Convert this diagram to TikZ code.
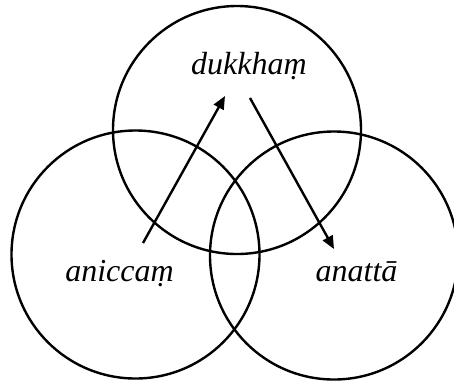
\documentclass[tikz,border=0pt]{standalone}
\usepackage{fontspec}
\setmainfont{Liberation Serif}
\usetikzlibrary{arrows.meta}

\begin{document}
\begin{tikzpicture}[x=0.5pt, y=-0.5pt,
  ring/.style={draw, circle, line width=1.2pt, minimum size=124pt, inner sep=0pt},
  lbl/.style={font=\fontsize{16}{19}\selectfont\itshape, anchor=base, inner sep=0pt},
  arr/.style={-{Triangle[length=6.5pt, width=5.5pt]}, line width=1.2pt}]
\useasboundingbox (0,0) rectangle (454,382);
\node[ring] (top) at (237,130) {};
\node[ring] (left) at (135.5,254.5) {};
\node[ring] (right) at (334,255.5) {};
\node[lbl] (dukkham) at (249,74) {dukkhaṃ};
\node[lbl] (aniccam) at (119.5,281) {aniccaṃ};
\node[lbl] (anatta) at (356.5,281) {anattā};
\coordinate (a1) at (143,243);
\coordinate (a2) at (225,96);
\coordinate (b1) at (250,98);
\coordinate (b2) at (334,249);
\draw[arr] (a1) -- (a2);
\draw[arr] (b1) -- (b2);
\end{tikzpicture}
\end{document}
